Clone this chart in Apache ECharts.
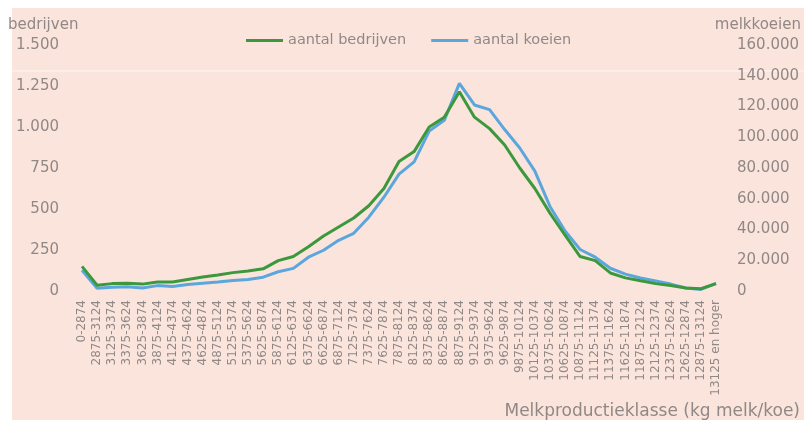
<!DOCTYPE html>
<html>
<head>
<meta charset="utf-8">
<script src="https://cdn.jsdelivr.net/npm/echarts@6/dist/echarts.min.js"></script>
<style>
html,body{margin:0;padding:0;background:#ffffff;}
#bg{position:absolute;left:12px;top:8px;width:792px;height:412px;background:#fbe4dc;}
#chart{position:absolute;left:0;top:0;width:804px;height:423px;}
</style>
</head>
<body>
<div id="bg"></div>
<div id="chart"></div>
<script>
const categories = [
  "0-2874","2875-3124","3125-3374","3375-3624","3625-3874","3875-4124","4125-4374",
  "4375-4624","4625-4874","4875-5124","5125-5374","5375-5624","5625-5874","5875-6124",
  "6125-6374","6375-6624","6625-6874","6875-7124","7125-7374","7375-7624","7625-7874",
  "7875-8124","8125-8374","8375-8624","8625-8874","8875-9124","9125-9374","9375-9624",
  "9625-9874","9875-10124","10125-10374","10375-10624","10625-10874","10875-11124",
  "11125-11374","11375-11624","11625-11874","11875-12124","12125-12374","12375-12624",
  "12625-12874","12875-13124","13125 en hoger"
];
const bedrijven = [150, 35, 45, 47, 42, 55, 55, 70, 85, 97, 112, 122, 135, 185, 210, 270, 335, 390, 445, 520, 625, 790, 850, 1000, 1060, 1215, 1060, 990, 890, 750, 625, 475, 340, 210, 185, 110, 80, 62, 45, 33, 18, 14, 45];
const koeien = [13500, 1800, 2500, 2800, 2000, 3500, 3000, 4200, 5000, 5800, 6800, 7500, 9000, 12500, 14700, 22000, 26500, 33000, 37500, 48000, 61000, 76000, 84000, 104000, 111000, 135000, 121000, 118000, 105000, 93000, 78000, 55000, 39000, 27000, 22000, 14800, 11000, 8500, 6500, 4500, 2000, 1000, 5000];
const leftTicks = {min: 0, max: 1500, interval: 250};
const rightTicks = {min: 0, max: 160000, interval: 20000};

const txt = '#908886';
const fmt = v => String(v).replace(/\B(?=(\d{3})+(?!\d))/g, '.');
const font = 'DejaVu Sans';

const chart = echarts.init(document.getElementById('chart'), null, {renderer: 'canvas'});
chart.setOption({
  backgroundColor: 'transparent',
  animation: false,
  textStyle: {fontFamily: font},
  legend: {
    data: ['aantal bedrijven', 'aantal koeien'],
    left: 241, top: 28,
    icon: 'rect', itemWidth: 37, itemHeight: 3, itemGap: 25,
    textStyle: {fontSize: 14.5, color: txt, fontFamily: font}
  },
  grid: {left: 82, right: 88, top: 45, bottom: 132, containLabel: false},
  xAxis: {
    type: 'category', data: categories, boundaryGap: false,
    axisLine: {show: false}, axisTick: {show: false},
    axisLabel: {interval: 0, rotate: 90, fontSize: 12, color: txt, margin: 9, fontFamily: font}
  },
  yAxis: [
    {type: 'value', min: leftTicks.min, max: leftTicks.max, interval: leftTicks.interval,
     axisLine: {show: false}, axisTick: {show: false}, splitLine: {show: false},
     axisLabel: {formatter: fmt, fontSize: 15, color: txt, margin: 23, fontFamily: font}},
    {type: 'value', min: rightTicks.min, max: rightTicks.max, interval: rightTicks.interval,
     axisLine: {show: false}, axisTick: {show: false}, splitLine: {show: false},
     axisLabel: {formatter: fmt, fontSize: 15, color: txt, margin: 21, fontFamily: font}}
  ],
  series: [
    {name: 'aantal bedrijven', type: 'line', data: bedrijven, yAxisIndex: 0, symbol: 'none',
     z: 3, lineStyle: {width: 3, color: '#3c983c'}, itemStyle: {color: '#3c983c'}},
    {name: 'aantal koeien', type: 'line', data: koeien, yAxisIndex: 1, symbol: 'none',
     z: 2, lineStyle: {width: 3, color: '#5ba6dc'}, itemStyle: {color: '#5ba6dc'}}
  ],
  graphic: [
    {type: 'line', z: -1, silent: true, shape: {x1: 12, y1: 71, x2: 804, y2: 71},
     style: {stroke: '#ffffff', lineWidth: 1, opacity: 0.7}},
    {type: 'text', left: 8, top: 18, style: {text: 'bedrijven', fontSize: 15, fill: txt, fontFamily: font}},
    {type: 'text', right: 3, top: 18, style: {text: 'melkkoeien', fontSize: 15, fill: txt, fontFamily: font}},
    {type: 'text', right: 4, top: 403, z: 10, style: {text: 'Melkproductieklasse (kg melk/koe)', fontSize: 17, fill: txt, fontFamily: font}}
  ]
});
</script>
</body>
</html>
